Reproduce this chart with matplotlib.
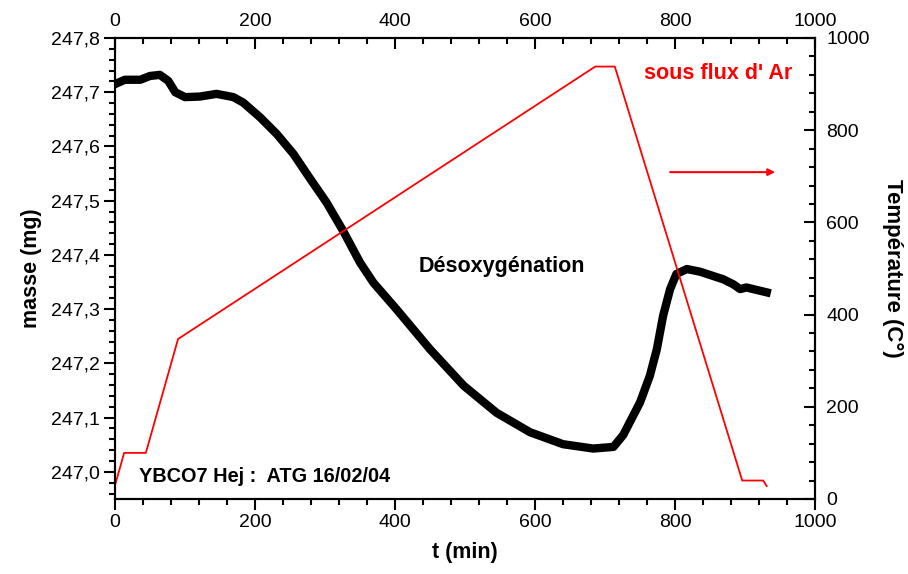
import matplotlib
matplotlib.use("Agg")
import matplotlib.pyplot as plt
from matplotlib.ticker import MultipleLocator, FuncFormatter

plt.rcParams['font.family'] = ['Liberation Sans', 'DejaVu Sans']

# mass curve (min, mg)
mass_t = [0, 14, 36, 50, 64, 76, 86, 100, 121, 145, 169, 183, 207, 231, 255, 279, 302,
          326, 345, 350, 369, 402, 450, 498, 545, 593, 640, 683, 712, 726, 750, 764, 774,
          783, 793, 802, 817, 836, 869, 883, 893, 902, 931]
mass_mg = [247.715, 247.723, 247.723, 247.730, 247.732, 247.721, 247.700, 247.691, 247.692,
           247.697, 247.691, 247.681, 247.654, 247.623, 247.586, 247.540, 247.497, 247.444,
           247.398, 247.386, 247.349, 247.300, 247.226, 247.159, 247.109, 247.073, 247.051,
           247.043, 247.046, 247.068, 247.128, 247.177, 247.226, 247.288, 247.337, 247.365,
           247.374, 247.369, 247.355, 247.346, 247.337, 247.340, 247.331]

# temperature programme (min, C)
temp_t = [0, 13, 44, 90, 686, 714, 896, 926, 931]
temp_c = [30, 100, 100, 347, 938, 938, 40, 40, 28]

comma = FuncFormatter(lambda v, p: f"{v:.1f}".replace(".", ","))

fig = plt.figure(figsize=(9.08, 5.74), dpi=100)
ax = fig.add_axes([0.1267, 0.1307, 0.7709, 0.8031])
ax2 = ax.twinx()

ax.plot(mass_t, mass_mg, color="black", lw=6, solid_joinstyle="round", zorder=3)
ax2.plot(temp_t, temp_c, color="red", lw=1.3)

ax.set_xlim(0, 1000)
ax.set_ylim(246.95, 247.8)
ax2.set_ylim(0, 1000)

ax.xaxis.set_major_locator(MultipleLocator(200))
ax.xaxis.set_minor_locator(MultipleLocator(40))
ax.yaxis.set_major_locator(MultipleLocator(0.1))
ax.yaxis.set_minor_locator(MultipleLocator(0.02))
ax.yaxis.set_major_formatter(comma)
ax2.yaxis.set_major_locator(MultipleLocator(200))
ax2.yaxis.set_minor_locator(MultipleLocator(40))

ax.tick_params(axis="both", which="major", direction="out", length=8, width=1.5,
               labelsize=14, pad=3)
ax.tick_params(axis="both", which="minor", direction="out", length=4, width=1.5)
ax2.tick_params(axis="y", which="major", direction="in", length=8, width=1.5,
                labelsize=14, pad=8)
ax2.tick_params(axis="y", which="minor", direction="in", length=4, width=1.5)

# top axis: same t scale, ticks pointing inwards
ax2.xaxis.set_visible(True)
ax2.xaxis.set_major_locator(MultipleLocator(200))
ax2.xaxis.set_minor_locator(MultipleLocator(40))
ax2.tick_params(axis="x", which="both", bottom=False, labelbottom=False,
                top=True, labeltop=True, direction="in", width=1.5)
ax2.tick_params(axis="x", which="major", length=8, labelsize=14, pad=6)
ax2.tick_params(axis="x", which="minor", length=4)

for a in (ax, ax2):
    for s in a.spines.values():
        s.set_linewidth(1.5)

ax.set_xlabel("t (min)", fontsize=15.5, fontweight="bold", labelpad=8)
ax.set_ylabel("masse (mg)", fontsize=15.5, fontweight="bold", labelpad=6)
ax2.set_ylabel("Température (C°)", fontsize=16, fontweight="bold", rotation=-90, labelpad=24)

ax.text(552, 247.378, "Désoxygénation", fontsize=15.5, fontweight="bold", ha="center", va="center")
ax.text(34, 246.992, "YBCO7 Hej :  ATG 16/02/04", fontsize=14.3, fontweight="bold",
        ha="left", va="center")
ax2.text(861, 922, "sous flux d' Ar", fontsize=15.5, fontweight="bold", color="red",
         ha="center", va="center")
ax2.annotate("", xy=(947, 709), xytext=(789, 709),
             arrowprops=dict(arrowstyle="-|>", color="red", lw=1.5, mutation_scale=10))

fig.savefig("out.png", dpi=100)
